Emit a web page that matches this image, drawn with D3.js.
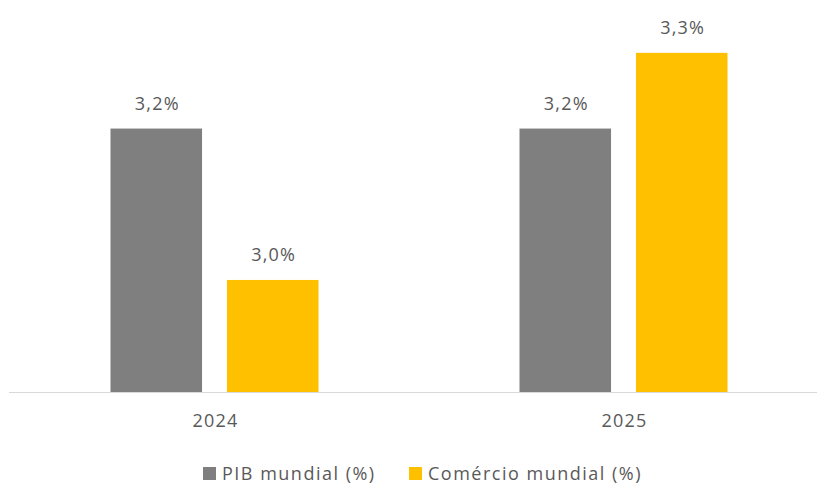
<!DOCTYPE html>
<html>
<head>
<meta charset="utf-8">
<script src="https://cdn.jsdelivr.net/npm/d3@7"></script>
<style>
  body { margin: 0; background: #fff; }
  text { font-family: "Open Sans", sans-serif; fill: #595959; letter-spacing: 1.2px; }
</style>
</head>
<body>
<div id="chart"></div>
<script>
// data
var years = ["2024", "2025"];
var seriesNames = ["PIB mundial (%)", "Comércio mundial (%)"];
var pib = [3.2, 3.2];
var comercio = [3.0, 3.3];
var colors = ["#7f7f7f", "#ffc000"];

var svgWidth = 819;
var svgHeight = 485;
var baseY = 392;

var svg = d3.select("#chart")
  .append("svg")
  .attr("width", svgWidth)
  .attr("height", svgHeight);

var rows = years.map(function(y, i) {
  return { year: y, values: [pib[i], comercio[i]] };
});

// scales
var x0 = d3.scaleBand()
  .domain(years)
  .range([10, 828]);

var x1 = d3.scaleBand()
  .domain([0, 1])
  .range([0, 208])
  .paddingInner(0.214);

var yScale = d3.scaleLinear()
  .domain([2.852, 3.35])
  .range([baseY, 15]);

var fmt = function(v) { return d3.format(".1f")(v).replace(".", ",") + "%"; };

var groups = svg.selectAll("g.year")
  .data(rows)
  .enter()
  .append("g")
  .attr("class", "year")
  .attr("transform", d => `translate(${x0(d.year) + x0.bandwidth() / 2 - 104}, 0)`);

groups.selectAll("rect")
  .data(d => d.values)
  .enter()
  .append("rect")
  .attr("x", (d, i) => x1(i))
  .attr("y", d => yScale(d))
  .attr("width", x1.bandwidth())
  .attr("height", d => baseY - yScale(d))
  .attr("fill", (d, i) => colors[i]);

groups.selectAll("text.val")
  .data(d => d.values)
  .enter()
  .append("text")
  .attr("class", "val")
  .attr("x", (d, i) => x1(i) + x1.bandwidth() / 2 + 1)
  .attr("y", d => yScale(d) - 19)
  .attr("text-anchor", "middle")
  .style("font-size", "18px")
  .text(fmt);

// x axis
var xAxis = d3.axisBottom(x0).tickSize(0).tickPadding(22);
var axisG = svg.append("g")
  .attr("transform", `translate(0, ${baseY})`)
  .call(xAxis);
axisG.select(".domain").remove();
axisG.selectAll("text")
  .style("font-size", "18px")
  .style("font-family", "'Open Sans', sans-serif")
  .attr("dx", 1)
  .attr("fill", "#595959");
svg.append("line")
  .attr("x1", 9).attr("x2", 817)
  .attr("y1", baseY + 0.5).attr("y2", baseY + 0.5)
  .attr("stroke", "#d9d9d9")
  .attr("stroke-width", 1);

// legend
var legendX = [203, 409];
var legend = svg.selectAll("g.legend")
  .data(seriesNames)
  .enter()
  .append("g")
  .attr("class", "legend")
  .attr("transform", (d, i) => `translate(${legendX[i]}, 467)`);

legend.append("rect")
  .attr("width", 13)
  .attr("height", 13)
  .attr("fill", (d, i) => colors[i]);

legend.append("text")
  .attr("x", 19)
  .attr("y", 12.5)
  .style("font-size", "18px")
  .style("letter-spacing", "1.5px")
  .text(d => d);
</script>
</body>
</html>
